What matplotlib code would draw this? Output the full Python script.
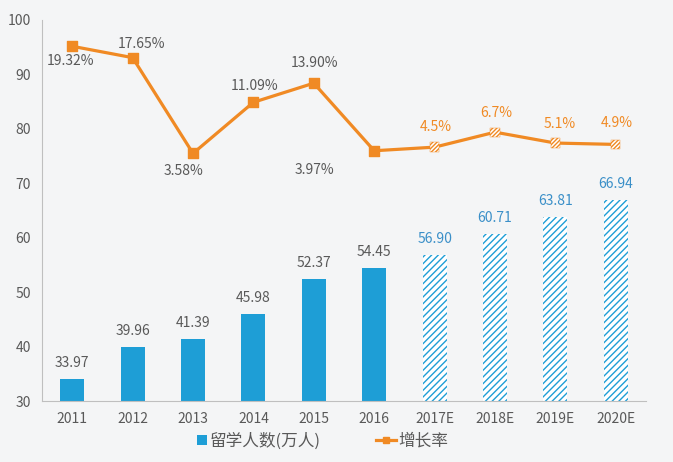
import matplotlib
matplotlib.use("Agg")
import matplotlib.pyplot as plt
from matplotlib.lines import Line2D
from matplotlib.patches import Patch, Rectangle
from matplotlib.legend_handler import HandlerPatch

plt.rcParams['font.family'] = ['Noto Sans CJK SC', 'DejaVu Sans']
plt.rcParams['hatch.linewidth'] = 1.0

# data
years = ['2011', '2012', '2013', '2014', '2015', '2016',
         '2017E', '2018E', '2019E', '2020E']
students = [33.97, 39.96, 41.39, 45.98, 52.37, 54.45, 56.90, 60.71, 63.81, 66.94]
growth = [19.32, 17.65, 3.58, 11.09, 13.90, 3.97, 4.5, 6.7, 5.1, 4.9]
growth_labels = ['19.32%', '17.65%', '3.58%', '11.09%', '13.90%', '3.97%',
                 '4.5%', '6.7%', '5.1%', '4.9%']
n_actual = 6  # first six years are actual, the rest are estimates

blue = '#1E9ED6'
blue_text = '#3A8FC8'
orange = '#F08A24'
grey_text = '#595959'
bg = '#F4F5F6'


def square_right(legend, orig_handle, xdescent, ydescent, width, height, fontsize):
    # small square pushed to the right end of the handle box
    s = 7.5
    return Rectangle((width - s - xdescent, (height - s) / 2 - ydescent), s, s)


fig = plt.figure(figsize=(6.73, 4.62), dpi=100, facecolor=bg)
ax = fig.add_axes([0.0624, 0.132, 0.8975, 0.825])
ax.set_facecolor(bg)

x = list(range(len(years)))

# bars: solid for actual, hatched for estimates
ax.bar(x[:n_actual], students[:n_actual], width=0.4, color=blue, zorder=2)
ax.bar(x[n_actual:], students[n_actual:], width=0.4, facecolor='white',
       edgecolor=blue, linewidth=0, hatch='/////', zorder=2)

for i, v in enumerate(students):
    ax.annotate('{:.2f}'.format(v), (i, v), xytext=(0, 16), textcoords='offset pixels',
                ha='center', va='center', fontsize=10,
                color=grey_text if i < n_actual else blue_text)

ax.set_ylim(30, 100)
ax.set_xlim(-0.5, 9.5)
ax.set_yticks([30, 40, 50, 60, 70, 80, 90, 100])
ax.set_xticks(x)
ax.set_xticklabels(years)
ax.tick_params(length=0, labelsize=10, colors=grey_text, pad=8)
for s in ['top', 'right']:
    ax.spines[s].set_visible(False)
ax.spines['left'].set_color('#BFBFBF')
ax.spines['bottom'].set_color('#BFBFBF')

# growth rate on a hidden second scale
ax2 = ax.twinx()
ax2.set_ylim(-32.8, 23.2)
ax2.axis('off')
ax2.plot(x, growth, color=orange, linewidth=2.3, zorder=3)
ax2.scatter(x[:n_actual], growth[:n_actual], marker='s', s=45, color=orange, zorder=4)
ax2.scatter(x[n_actual:], growth[n_actual:], marker='s', s=45, facecolor='white',
            edgecolor=orange, linewidth=0.3, hatch='////////', zorder=4)

offsets = [(-2, -15), (9, 14), (-9, -18), (1, 16), (1, 20), (-60, -19),
           (1, 20), (1, 19), (4, 19), (1, 21)]
for i, (g, lab) in enumerate(zip(growth, growth_labels)):
    ax2.annotate(lab, (i, g), xytext=offsets[i], textcoords='offset pixels',
                 ha='center', va='center', fontsize=10,
                 color=grey_text if i < n_actual else orange)

bar_handle = Patch(facecolor=blue, edgecolor='none')
line_handle = Line2D([0], [0], color=orange, linewidth=2.3, marker='s', markersize=5)
fig.legend([bar_handle, line_handle], ['留学人数(万人)', '增长率'], loc='center',
           bbox_to_anchor=(0.472, 0.045), ncol=2, frameon=False,
           fontsize=12, labelcolor=grey_text, handlelength=1.2,
           handletextpad=0.15, columnspacing=3.3,
           handler_map={bar_handle: HandlerPatch(patch_func=square_right)})

fig.savefig('out.png', dpi=100, facecolor=bg)
